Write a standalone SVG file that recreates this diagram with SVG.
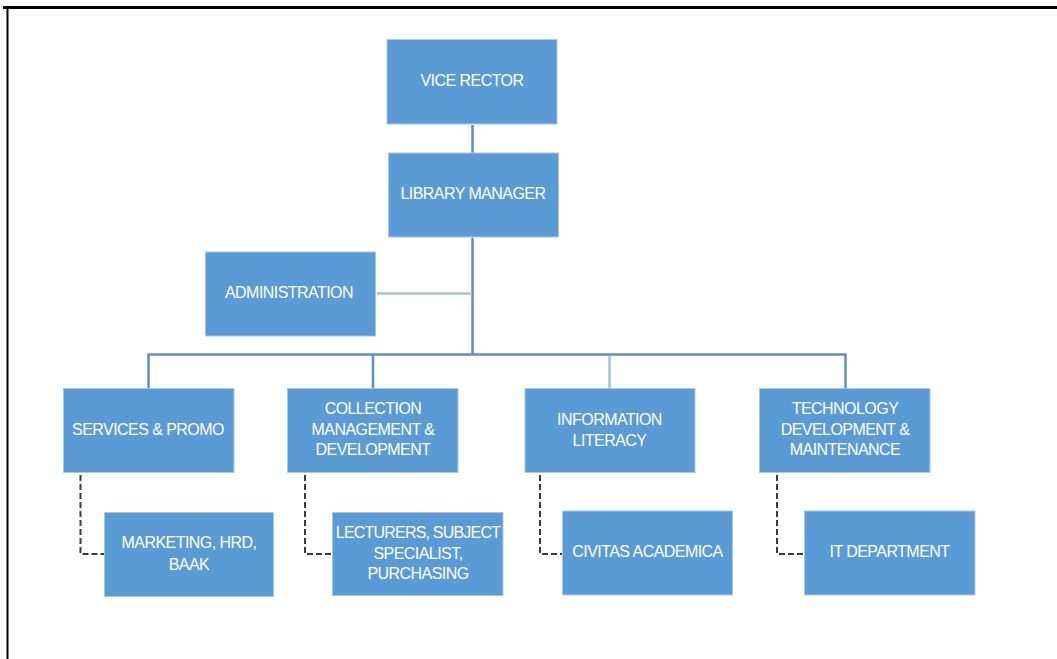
<svg xmlns="http://www.w3.org/2000/svg" width="1057" height="659" viewBox="0 0 1057 659">
<style>
.box{fill:#5b9bd5;stroke:#a7c6e8;stroke-width:1}
.t{font-family:"Liberation Sans",Arial,sans-serif;font-size:16px;fill:#ffffff;text-anchor:middle;letter-spacing:-0.55px}
.solid{fill:none;stroke:#5f8fc0;stroke-width:2.5}
.light{fill:none;stroke:#a6c2de;stroke-width:2.5}
.dash{fill:none;stroke:#3a3a3a;stroke-width:2;stroke-dasharray:6,3}
</style>
<rect width="1057" height="659" fill="#ffffff"/>
<line x1="3" y1="7.5" x2="1057" y2="7.5" stroke="#000" stroke-width="3"/>
<line x1="7.5" y1="7" x2="7.5" y2="659" stroke="#000" stroke-width="2"/>
<g id="connectors">
<line class="solid" x1="472.5" y1="125" x2="472.5" y2="153"/>
<line class="solid" x1="472.5" y1="238" x2="472.5" y2="355"/>
<line class="light" x1="377" y1="293.5" x2="472" y2="293.5"/>
<polyline class="solid" points="148.5,388 148.5,354.5 845.5,354.5 845.5,388"/>
<line class="solid" x1="373" y1="354.5" x2="373" y2="388"/>
<line class="light" x1="609.5" y1="356" x2="609.5" y2="388"/>
<polyline class="dash" points="80.5,475 80.5,554 104,554"/>
<polyline class="dash" points="305,475 305,554 332,554"/>
<polyline class="dash" points="540,475 540,554 562,554"/>
<polyline class="dash" points="777,475 777,554 804,554"/>
</g>
<g id="vice-rector"><rect class="box" x="387" y="39.5" width="170" height="84.5"/><text class="t" x="472" y="86">VICE RECTOR</text></g>
<g id="library-manager"><rect class="box" x="388.5" y="153" width="170" height="84"/><text class="t" x="473" y="199">LIBRARY MANAGER</text></g>
<g id="administration"><rect class="box" x="205.5" y="252" width="170" height="84"/><text class="t" x="289" y="298">ADMINISTRATION</text></g>
<g id="services"><rect class="box" x="63.5" y="388.5" width="170.5" height="84"/><text class="t" x="148" y="435">SERVICES &amp; PROMO</text></g>
<g id="collection"><rect class="box" x="287.5" y="388.5" width="170.5" height="84"/><text class="t" x="373" y="414">COLLECTION</text><text class="t" x="373" y="434.5">MANAGEMENT &amp;</text><text class="t" x="373" y="455">DEVELOPMENT</text></g>
<g id="information"><rect class="box" x="525" y="388.5" width="170" height="84"/><text class="t" x="609.5" y="424.5">INFORMATION</text><text class="t" x="609.5" y="445.5">LITERACY</text></g>
<g id="technology"><rect class="box" x="759.5" y="388.5" width="170.5" height="84"/><text class="t" x="845" y="414">TECHNOLOGY</text><text class="t" x="845" y="434.5">DEVELOPMENT &amp;</text><text class="t" x="845" y="455">MAINTENANCE</text></g>
<g id="marketing"><rect class="box" x="104.5" y="512.5" width="169" height="84"/><text class="t" x="189" y="548">MARKETING, HRD,</text><text class="t" x="189" y="569.5">BAAK</text></g>
<g id="lecturers"><rect class="box" x="332.5" y="512.5" width="170.5" height="83"/><text class="t" x="418" y="537.5" style="letter-spacing:-0.8px">LECTURERS, SUBJECT</text><text class="t" x="418" y="558.5">SPECIALIST,</text><text class="t" x="418" y="578.5">PURCHASING</text></g>
<g id="civitas"><rect class="box" x="562.5" y="511" width="170" height="84"/><text class="t" x="647.5" y="557">CIVITAS ACADEMICA</text></g>
<g id="it-department"><rect class="box" x="804.5" y="511" width="170.5" height="84"/><text class="t" x="889.5" y="557">IT DEPARTMENT</text></g>
</svg>
